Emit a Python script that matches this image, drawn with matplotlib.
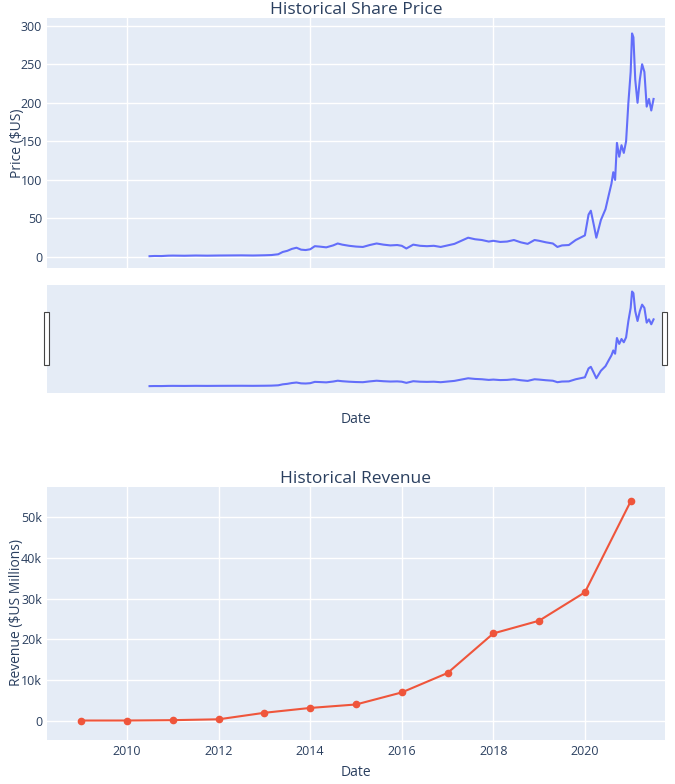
import matplotlib.pyplot as plt
from matplotlib.patches import Rectangle

# share price (decimal year, $US)
price_dates = [2010.49, 2010.6, 2010.75, 2010.9, 2011.0, 2011.25, 2011.5, 2011.75, 2012.0, 2012.25,
               2012.5, 2012.75, 2013.0, 2013.15, 2013.3, 2013.4, 2013.5, 2013.6, 2013.7, 2013.8,
               2013.9, 2014.0, 2014.1, 2014.2, 2014.35, 2014.5, 2014.6, 2014.7, 2014.85, 2015.0,
               2015.15, 2015.3, 2015.45, 2015.6, 2015.75, 2015.9, 2016.0, 2016.1, 2016.25, 2016.4,
               2016.55, 2016.7, 2016.85, 2017.0, 2017.15, 2017.3, 2017.45, 2017.6, 2017.75, 2017.9,
               2018.0, 2018.15, 2018.3, 2018.45, 2018.6, 2018.75, 2018.9, 2019.0, 2019.15, 2019.3,
               2019.4, 2019.5, 2019.65, 2019.8, 2019.9, 2020.0, 2020.08, 2020.13, 2020.2, 2020.25,
               2020.35, 2020.45, 2020.52, 2020.58, 2020.62, 2020.66, 2020.7, 2020.75, 2020.8, 2020.85,
               2020.9, 2020.95, 2021.0, 2021.03, 2021.06, 2021.1, 2021.15, 2021.2, 2021.25, 2021.3,
               2021.35, 2021.4, 2021.45, 2021.5]
price_vals = [1.0, 1.3, 1.2, 1.7, 1.8, 1.6, 1.9, 1.7, 1.9, 2.0,
              2.1, 1.9, 2.2, 2.5, 3.5, 6.5, 8.0, 10.5, 12.0, 9.5,
              9.0, 10.0, 14.0, 13.5, 12.5, 15.0, 17.5, 16.0, 14.5, 13.5,
              13.0, 15.5, 17.5, 16.0, 15.0, 15.5, 14.5, 11.0, 16.0, 14.5,
              14.0, 14.5, 13.0, 15.0, 17.0, 21.0, 25.0, 23.0, 22.0, 20.0,
              21.0, 19.5, 20.0, 22.0, 19.0, 17.0, 22.0, 21.0, 19.0, 17.5,
              13.0, 15.0, 15.5, 22.0, 25.0, 28.0, 55.0, 60.0, 40.0, 25.0,
              48.0, 62.0, 80.0, 95.0, 110.0, 100.0, 148.0, 130.0, 145.0, 135.0,
              150.0, 200.0, 240.0, 290.0, 285.0, 230.0, 200.0, 230.0, 250.0, 240.0,
              195.0, 205.0, 190.0, 205.0]

rev_years = [2009, 2010, 2011, 2012, 2013, 2014, 2015, 2016, 2017, 2018, 2019, 2020, 2021]
rev_vals = [112, 117, 204, 413, 2013, 3198, 4046, 7000, 11759, 21461, 24578, 31536, 53823]

BG = "#E5ECF6"
TXT = "#2a3f5f"
plt.rcParams["font.family"] = ["Open Sans", "DejaVu Sans"]
plt.rcParams["text.color"] = TXT

W, H = 675, 784
fig = plt.figure(figsize=(6.75, 7.84), dpi=100)


def box(l, t, r, b):
    return [l / W, 1 - b / H, (r - l) / W, (b - t) / H]


def label(x, y, s, rot=0):
    fig.text(x / W, 1 - y / H, s, rotation=rot, ha="center", va="center",
             fontsize=10, color=TXT)


xlim = (2008.25, 2021.75)


def style(ax):
    ax.set_facecolor(BG)
    ax.grid(color="white", linewidth=1)
    ax.set_axisbelow(True)
    for s in ax.spines.values():
        s.set_visible(False)
    ax.tick_params(length=0, colors=TXT, labelsize=9, labelcolor=TXT)
    ax.set_xlim(*xlim)


ax1 = fig.add_axes(box(47, 18, 665, 268))
style(ax1)
ax1.plot(price_dates, price_vals, color="#636EFA", lw=1.5)
ax1.set_ylim(-14.3, 310)
ax1.set_yticks([0, 50, 100, 150, 200, 250, 300])
ax1.set_xticks([2010, 2014, 2018])
ax1.set_xticklabels([])
ax1.set_title("Historical Share Price", fontsize=12.5, color=TXT, pad=2)
label(17, 143, "Price ($US)", 90)

ax2 = fig.add_axes(box(47, 285, 665, 393))
ax2.set_facecolor(BG)
for s in ax2.spines.values():
    s.set_visible(False)
ax2.plot(price_dates, price_vals, color="#636EFA", lw=1.5)
ax2.set_xlim(*xlim)
ax2.set_ylim(-20, 310)
ax2.set_xticks([])
ax2.set_yticks([])
label(356, 419, "Date")
for xp in (44, 662):
    fig.patches.append(Rectangle((xp / W, 1 - 365 / H), 5 / W, 53 / H, transform=fig.transFigure,
                                 facecolor="white", edgecolor="#444444", lw=0.8))

ax3 = fig.add_axes(box(47, 487, 665, 740))
style(ax3)
ax3.plot(rev_years, rev_vals, color="#EF553B", lw=1.5, marker="o", ms=4.5)
ax3.set_ylim(-4660, 57350)
ax3.set_yticks([0, 10000, 20000, 30000, 40000, 50000])
ax3.set_yticklabels(["0", "10k", "20k", "30k", "40k", "50k"])
ax3.set_xticks([2010, 2012, 2014, 2016, 2018, 2020])
ax3.set_xticklabels(["2010", "2012", "2014", "2016", "2018", "2020"])
ax3.set_title("Historical Revenue", fontsize=12.5, color=TXT, pad=3)
label(17, 613, "Revenue ($US Millions)", 90)
label(356, 773, "Date")

fig.savefig("out.png", dpi=100)
